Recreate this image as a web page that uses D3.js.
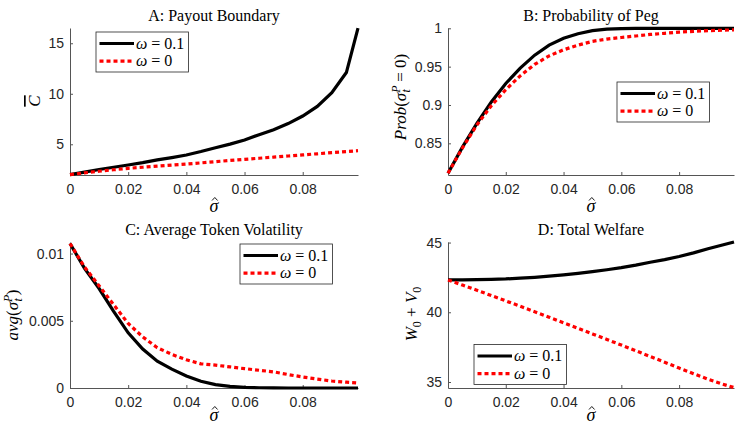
<!DOCTYPE html>
<html>
<head>
<meta charset="utf-8">
<script src="https://cdn.jsdelivr.net/npm/d3@7"></script>
<style>
body { margin: 0; background: #fff; }
.tick text { font-family: "Liberation Sans", Arial, sans-serif; font-size: 14px; fill: #262626; }
.domain, .tick line { stroke: #555; stroke-width: 1; }
</style>
</head>
<body>
<svg id="chart" width="735" height="425"></svg>
<script>
// values, sigma-hat on the x axis
const sigmaHat = [0, 0.005, 0.01, 0.015, 0.02, 0.025, 0.03, 0.035, 0.04, 0.045, 0.05,
    0.055, 0.06, 0.065, 0.07, 0.075, 0.08, 0.085, 0.09, 0.095, 0.099];

const payoutOmega01 = [2.0, 2.24, 2.5, 2.73, 2.95, 3.18, 3.45, 3.68, 3.94, 4.28, 4.66,
    5.02, 5.43, 5.95, 6.45, 7.05, 7.8, 8.75, 10.1, 12.1, 16.5];
const payoutOmega0 = [2.0, 2.17, 2.33, 2.48, 2.62, 2.73, 2.84, 2.94, 3.04, 3.16, 3.28,
    3.4, 3.51, 3.62, 3.73, 3.84, 3.95, 4.06, 4.17, 4.28, 4.37];

const pegOmega01 = [0.811, 0.845, 0.876, 0.904, 0.928, 0.948, 0.965, 0.978, 0.987, 0.993, 0.997,
    0.999, 0.9995, 0.9998, 1, 1, 1, 1, 1, 1, 1];
const pegOmega0 = [0.811, 0.844, 0.874, 0.899, 0.92, 0.938, 0.953, 0.964, 0.972, 0.978, 0.983,
    0.986, 0.988, 0.99, 0.992, 0.9935, 0.995, 0.996, 0.997, 0.9975, 0.998];

const volOmega01 = [0.01075, 0.0089, 0.0074, 0.0057, 0.0041, 0.0029, 0.002, 0.0014, 0.0009, 0.0005, 0.00025,
    0.00012, 0.00005, 0.00002, 0.00001, 0, 0, 0, 0, 0, 0];
const volOmega0 = [0.01075, 0.009, 0.0076, 0.0062, 0.0048, 0.0038, 0.003, 0.0025, 0.0021, 0.0018, 0.0017,
    0.00157, 0.00144, 0.00132, 0.0012, 0.001, 0.00082, 0.00066, 0.00052, 0.00043, 0.00037];

const welfareOmega01 = [42.32, 42.33, 42.34, 42.36, 42.39, 42.45, 42.51, 42.59, 42.68, 42.79, 42.92,
    43.05, 43.2, 43.38, 43.59, 43.78, 44.0, 44.26, 44.55, 44.82, 45.04];
const welfareOmega0 = [42.32, 41.95, 41.58, 41.2, 40.82, 40.43, 40.04, 39.65, 39.25, 38.85, 38.45,
    38.05, 37.65, 37.24, 36.83, 36.42, 36.0, 35.6, 35.2, 34.85, 34.6];

const xTicks = [0, 0.02, 0.04, 0.06, 0.08];
const payoutTicks = [5, 10, 15];
const pegTicks = [0.85, 0.9, 0.95, 1];
const volTicks = [0, 0.005, 0.01];
const welfareTicks = [35, 40, 45];

const omegaValues = ['0.1', '0'];
const titles = ['A: Payout Boundary', 'B: Probability of Peg', 'C: Average Token Volatility', 'D: Total Welfare'];

const SERIF = '"Liberation Serif", "DejaVu Serif", "Times New Roman", serif';

const svg = d3.select('#chart');

// helpers for the latex-ish labels
function addSpan(text, str, opts) {
    const t = text.append('tspan').text(str);
    if (opts) {
        if (opts.italic) t.attr('font-style', 'italic');
        if (opts.size) t.attr('font-size', opts.size);
        if (opts.dx !== undefined) t.attr('dx', opts.dx);
        if (opts.dy !== undefined) t.attr('dy', opts.dy);
    }
    return t;
}

const yLabelWriters = [
    text => {
        addSpan(text, 'C', { italic: true }).style('text-decoration', 'overline');
    },
    text => {
        addSpan(text, 'Prob', { italic: true });
        addSpan(text, '(');
        addSpan(text, 'σ', { italic: true });
        addSpan(text, 'P', { italic: true, size: 12, dy: -6 });
        addSpan(text, 't', { italic: true, size: 12, dx: -7, dy: 10 });
        addSpan(text, ' = 0)', { dx: 3, dy: -4 });
    },
    text => {
        addSpan(text, 'avg', { italic: true });
        addSpan(text, '(');
        addSpan(text, 'σ', { italic: true });
        addSpan(text, 'P', { italic: true, size: 12, dy: -6 });
        addSpan(text, 't', { italic: true, size: 12, dx: -7, dy: 10 });
        addSpan(text, ')', { dx: 3, dy: -4 });
    },
    text => {
        addSpan(text, 'W', { italic: true });
        addSpan(text, '0', { size: 12, dy: 4 });
        addSpan(text, ' + ', { dy: -4 });
        addSpan(text, 'V', { italic: true });
        addSpan(text, '0', { size: 12, dy: 4 });
    }
];

const panels = [
    { left: 70, top: 28, right: 358, bottom: 175, yDomain: [1.96, 16.51], yTicks: payoutTicks,
      series: [payoutOmega01, payoutOmega0], legend: [96, 32], yLabel: [40, 101], xLabelY: 212 },
    { left: 448, top: 28, right: 734, bottom: 175, yDomain: [0.8087, 1.0004], yTicks: pegTicks,
      series: [pegOmega01, pegOmega0], legend: [617, 82], yLabel: [406, 97], xLabelY: 212 },
    { left: 70, top: 242, right: 358, bottom: 388, yDomain: [0, 0.01086], yTicks: volTicks,
      series: [volOmega01, volOmega0], legend: [240, 244], yLabel: [18, 315], xLabelY: 421 },
    { left: 448, top: 242, right: 734, bottom: 388, yDomain: [34.57, 45.04], yTicks: welfareTicks,
      series: [welfareOmega01, welfareOmega0], legend: [474, 344.5], yLabel: [417, 314], xLabelY: 421 }
];

const lineStyles = [
    { color: '#000', width: 3.2, dash: null },
    { color: '#ff0000', width: 3.2, dash: '4,3' }
];

panels.forEach((p, i) => {
    const x = d3.scaleLinear().domain([0, 0.099]).range([p.left, p.right]);
    const y = d3.scaleLinear().domain(p.yDomain).range([p.bottom, p.top]);

    svg.append('g')
        .attr('transform', `translate(0,${p.bottom})`)
        .call(d3.axisBottom(x).tickValues(xTicks).tickFormat(d => String(d))
            .tickSizeInner(-3).tickSizeOuter(0).tickPadding(9));

    svg.append('g')
        .attr('transform', `translate(${p.left},0)`)
        .call(d3.axisLeft(y).tickValues(p.yTicks).tickFormat(d => String(d))
            .tickSizeInner(-3).tickSizeOuter(0).tickPadding(6));

    p.series.forEach((vals, k) => {
        const st = lineStyles[k];
        svg.append('path')
            .datum(vals)
            .attr('fill', 'none')
            .attr('stroke', st.color)
            .attr('stroke-width', st.width)
            .attr('stroke-dasharray', st.dash)
            .attr('d', d3.line()
                .x((d, j) => x(sigmaHat[j]))
                .y(d => y(d)));
    });

    // title
    svg.append('text')
        .attr('x', (p.left + p.right) / 2)
        .attr('y', p.top - 7.3)
        .attr('text-anchor', 'middle')
        .attr('font-family', SERIF)
        .attr('font-size', 16)
        .text(titles[i]);

    // x label: italic sigma, hat drawn as a small stroke above it
    const cx = (p.left + p.right) / 2;
    svg.append('text')
        .attr('x', cx)
        .attr('y', p.xLabelY)
        .attr('text-anchor', 'middle')
        .attr('font-family', SERIF)
        .attr('font-size', 18)
        .attr('font-style', 'italic')
        .text('σ');
    svg.append('path')
        .attr('d', `M${cx - 2},${p.xLabelY - 11.5}L${cx + 0.8},${p.xLabelY - 14.5}L${cx + 3.6},${p.xLabelY - 11.5}`)
        .attr('fill', 'none')
        .attr('stroke', '#000')
        .attr('stroke-width', 0.9);

    // y label
    const yl = svg.append('text')
        .attr('transform', `translate(${p.yLabel[0]},${p.yLabel[1]}) rotate(-90)`)
        .attr('text-anchor', 'middle')
        .attr('font-family', SERIF)
        .attr('font-size', 17);
    yLabelWriters[i](yl);

    // legend
    const lg = svg.append('g').attr('transform', `translate(${p.legend[0]},${p.legend[1]})`);
    lg.append('rect')
        .attr('width', 92.5).attr('height', 40)
        .attr('fill', '#fff').attr('stroke', '#262626').attr('stroke-width', 0.8);
    omegaValues.forEach((w, k) => {
        const st = lineStyles[k];
        const rowY = 11.5 + k * 17.7;
        lg.append('line')
            .attr('x1', 3.5).attr('x2', 38).attr('y1', rowY).attr('y2', rowY)
            .attr('stroke', st.color).attr('stroke-width', st.width)
            .attr('stroke-dasharray', st.dash);
        const t = lg.append('text')
            .attr('x', 40).attr('y', rowY + 5)
            .attr('font-family', SERIF)
            .attr('font-size', 16);
        addSpan(t, 'ω', { italic: true });
        addSpan(t, ' = ' + w);
    });
});
</script>
</body>
</html>
